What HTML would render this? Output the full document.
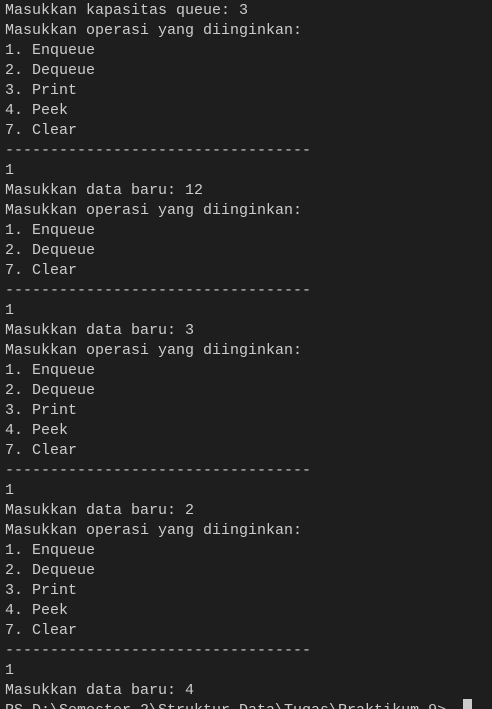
<!DOCTYPE html>
<html><head><style>
html,body{margin:0;padding:0;background:#1e1e1e;width:492px;height:706px;overflow:hidden}
pre{margin:0;padding:1px 0 0 5px;font-family:"Liberation Mono",monospace;font-size:15px;line-height:20px;color:#cccccc;white-space:pre}
.cur{position:absolute;left:463px;top:699px;width:9px;height:10px;background:#cccccc}
</style></head><body>
<pre>Masukkan kapasitas queue: 3
Masukkan operasi yang diinginkan:
1. Enqueue
2. Dequeue
3. Print
4. Peek
7. Clear
----------------------------------
1
Masukkan data baru: 12
Masukkan operasi yang diinginkan:
1. Enqueue
2. Dequeue
7. Clear
----------------------------------
1
Masukkan data baru: 3
Masukkan operasi yang diinginkan:
1. Enqueue
2. Dequeue
3. Print
4. Peek
7. Clear
----------------------------------
1
Masukkan data baru: 2
Masukkan operasi yang diinginkan:
1. Enqueue
2. Dequeue
3. Print
4. Peek
7. Clear
----------------------------------
1
Masukkan data baru: 4
PS D:\Semester 2\Struktur Data\Tugas\Praktikum 9&gt;</pre>
<div class="cur"></div>
</body></html>
